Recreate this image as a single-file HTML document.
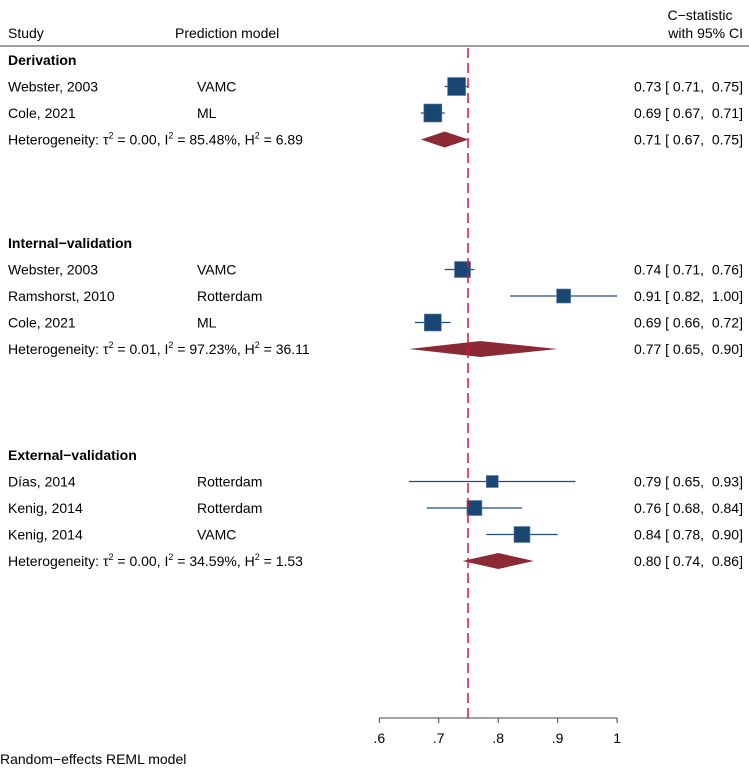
<!DOCTYPE html>
<html><head><meta charset="utf-8"><style>
body{margin:0;background:#fff;}
svg text{font-family:"Liberation Sans",Arial,sans-serif;font-size:14px;fill:#000;white-space:pre;}
</style></head><body>
<svg id="c" width="749" height="771" xmlns="http://www.w3.org/2000/svg">
<text x="8" y="38">Study</text>
<text x="175" y="38">Prediction model</text>
<text x="700" y="20" text-anchor="middle">C−statistic</text>
<text x="743" y="38" text-anchor="end">with 95% CI</text>
<line x1="0" y1="46" x2="749" y2="46" stroke="#666" stroke-width="1.2"/>
<g id="rows"></g>
<line x1="468" y1="48" x2="468" y2="718" stroke="#d6134a" stroke-width="1.5" stroke-dasharray="10,5"/>
<g id="axis"></g>
<text x="0" y="764">Random−effects REML model</text>
</svg>
<script>
const groups=["Derivation","Internal−validation","External−validation"];
const groupY=[60,243,455];
const studies=["Webster, 2003","Cole, 2021","Webster, 2003","Ramshorst, 2010","Cole, 2021","Días, 2014","Kenig, 2014","Kenig, 2014"];
const models=["VAMC","ML","VAMC","Rotterdam","ML","Rotterdam","Rotterdam","VAMC"];
const studyGroup=[0,0,1,1,1,2,2,2];
const est=[0.73,0.69,0.74,0.91,0.69,0.79,0.76,0.84];
const lo=[0.71,0.67,0.71,0.82,0.66,0.65,0.68,0.78];
const hi=[0.75,0.71,0.76,1.00,0.72,0.93,0.84,0.90];
const weight=[18,18,16,14,17,12,15,16];
const hetTau=["0.00","0.01","0.00"],hetI=["85.48%","97.23%","34.59%"],hetH=["6.89","36.11","1.53"];
const pooled=[0.71,0.77,0.80];
const pooledLo=[0.67,0.65,0.74];
const pooledHi=[0.75,0.90,0.86];
const ticks=[0.6,0.7,0.8,0.9,1.0];
const tickLabels=[".6",".7",".8",".9","1"];
const NS="http://www.w3.org/2000/svg";
const x=v=>379.3+(v-0.6)*594.5;
const rows=document.getElementById('rows');
function mk(tag,attrs,txt){const e=document.createElementNS(NS,tag);for(const k in attrs)e.setAttribute(k,attrs[k]);if(txt!==undefined)e.textContent=txt;rows.appendChild(e);return e;}
const f=v=>v.toFixed(2);
const ci=(a,b,c)=>`${f(a)} [ ${f(b)},  ${f(c)}]`;
let idx=0;
groups.forEach((g,gi)=>{
  let y=groupY[gi];
  let t=mk('text',{x:8,y:y+5,'font-weight':'bold'},g);
  
  
  while(idx<studies.length&&studyGroup[idx]===gi){
    y+=26.5;const i=idx;
    let s=mk('text',{x:8,y:y+5},studies[i]);
    
    
    let m=mk('text',{x:197,y:y+5},models[i]);
    
    
    let l=mk('line',{x1:x(lo[i]),x2:x(hi[i]),y1:y,y2:y,stroke:'#1f4e79','stroke-width':1.3});
    
    
    const w=weight[i];
    let r=mk('rect',{x:x(est[i])-w/2,y:y-w/2,width:w,height:w,fill:'#1a4674',stroke:'#5a7fa8','stroke-width':0.6});
    
    
    let v=mk('text',{x:743,y:y+5,'text-anchor':'end'},ci(est[i],lo[i],hi[i]));
    
    
    idx++;
  }
  y+=26.5;
  let h=mk('text',{x:8,y:y+5});
  h.innerHTML=`Heterogeneity: τ<tspan dy="-6" font-size="9">2</tspan><tspan dy="6"> = ${hetTau[gi]}, I</tspan><tspan dy="-6" font-size="9">2</tspan><tspan dy="6"> = ${hetI[gi]}, H</tspan><tspan dy="-6" font-size="9">2</tspan><tspan dy="6"> = ${hetH[gi]}</tspan>`;
  
  
  let d=mk('polygon',{points:`${x(pooledLo[gi])},${y} ${x(pooled[gi])},${y-8} ${x(pooledHi[gi])},${y} ${x(pooled[gi])},${y+8}`,fill:'#8b2a35'});
  
  
  let pv=mk('text',{x:743,y:y+5,'text-anchor':'end'},ci(pooled[gi],pooledLo[gi],pooledHi[gi]));
  
  
});
const ax=document.getElementById('axis');
function ma(tag,attrs,txt){const e=document.createElementNS(NS,tag);for(const k in attrs)e.setAttribute(k,attrs[k]);if(txt!==undefined)e.textContent=txt;ax.appendChild(e);return e;}
let al=ma('line',{x1:x(ticks[0]),x2:x(ticks[ticks.length-1]),y1:718,y2:718,stroke:'#444','stroke-width':1});


ticks.forEach((t,i)=>{
  let tk=ma('line',{x1:x(t),x2:x(t),y1:718,y2:723,stroke:'#444'});
  
  
  let tl=ma('text',{x:x(t),y:743,'text-anchor':'middle'},tickLabels[i]);
  
  
});
</script>
</body></html>
